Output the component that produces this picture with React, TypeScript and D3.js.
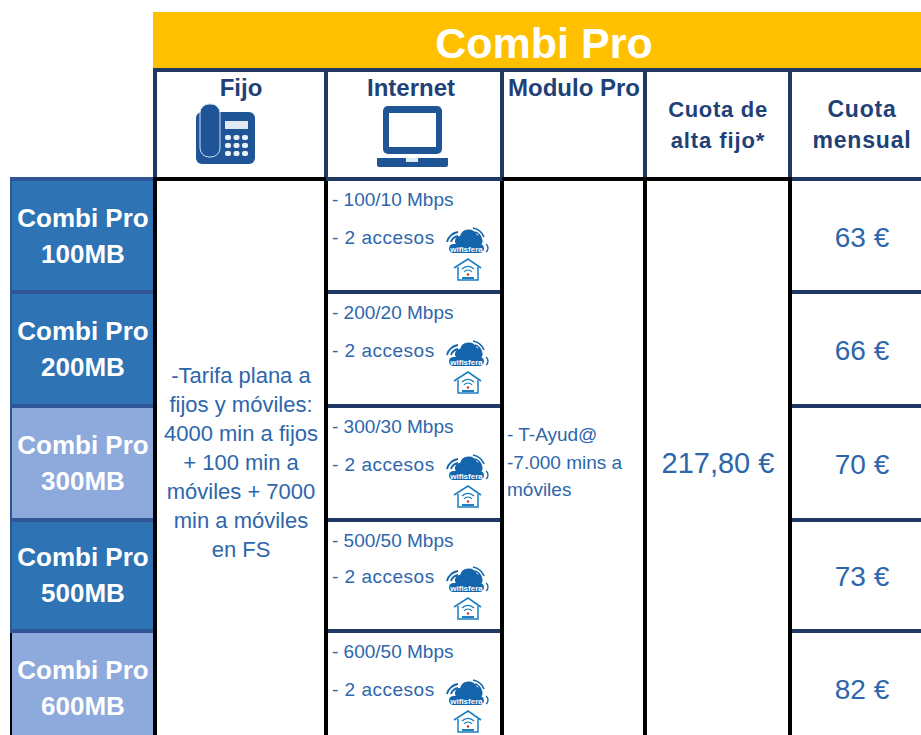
import React from "react";
import * as d3 from "d3";

const title = "Combi Pro";
const plans = ["100MB", "200MB", "300MB", "500MB", "600MB"];
const planShades = ["dark", "dark", "light", "dark", "light"];
const speeds = ["100/10", "200/20", "300/30", "500/50", "600/50"];
const prices = [63, 66, 70, 73, 82];
const altaFee = "217,80 €";
const fijoLines = [
  "-Tarifa plana a",
  "fijos y móviles:",
  "4000 min a fijos",
  "+ 100 min a",
  "móviles + 7000",
  "min a móviles",
  "en FS",
];
const moduloLines = ["- T-Ayud@", "-7.000 mins a", "móviles"];

const WIDTH = 921;
const HEIGHT = 735;
const FONT = "'Liberation Sans', Arial, sans-serif";
const NAVY = "#1f3864";
const HEAD = "#1f4178";
const BLUE = "#2e66ab";
const ICON = "#1565ad";

// column edges of the table
const colX = { fijo: 155, internet: 326, modulo: 502, alta: 645, cuota: 790, end: 921 };

// the source table has slightly uneven rows, so edges and content anchors are separate
const rowEdge = d3.scaleOrdinal<string, number>().domain(plans).range([179, 292, 406, 520, 631]);
const rowText = d3.scaleOrdinal<string, number>().domain(plans).range([179, 292, 406, 518, 631]);
const priceFmt = (v: number) => `${v} €`;

const PhoneIcon = ({ x, y }: { x: number; y: number }) => (
  <g transform={`translate(${x},${y})`}>
    <rect x={1} y={8} width={59} height={52} rx={6} fill="#1f5597" />
    <rect x={5} y={0} width={20} height={53} rx={9} fill="#1f5597" stroke="#cfe3f4" strokeWidth={1} />
    <rect x={30} y={17} width={23} height={8} fill="#dfe9f3" />
    {d3.range(3).flatMap((r) =>
      d3.range(3).map((c) => (
        <rect key={`${r}-${c}`} x={30 + c * 8.5} y={31 + r * 8} width={6} height={5} rx={2} fill="#e8f0f7" />
      ))
    )}
  </g>
);

const LaptopIcon = ({ x, y }: { x: number; y: number }) => (
  <g transform={`translate(${x},${y})`}>
    <rect x={6} y={0} width={59} height={48} rx={5} fill="#1f5597" />
    <rect x={12} y={7} width={47} height={34} fill="#fff" />
    <path d="M0,52H71V59a2,2 0 0 1 -2,2H2a2,2 0 0 1 -2,-2Z" fill="#1f5597" />
    <rect x={29} y={52} width={12} height={4} fill="#dfe9f3" />
  </g>
);

const WifiCloud = ({ x, y }: { x: number; y: number }) => (
  <g transform={`translate(${x},${y})`}>
    <path d="M11,18a5,5 0 0 1 3,-9a9,9 0 0 1 17,-1a6,6 0 0 1 4,10Z" fill={ICON} />
    <path d="M1,15a14,14 0 0 1 11,-10M5,15a9,9 0 0 1 7,-6" fill="none" stroke={ICON} strokeWidth={1.8} />
    <path d="M27,1a15,15 0 0 1 11,9M29,5a9,9 0 0 1 6,6" fill="none" stroke={ICON} strokeWidth={1.6} />
    <path d="M40,17a5,5 0 0 1 0,8" fill="none" stroke={ICON} strokeWidth={1.4} />
    <rect x={3} y={17} width={35} height={9} rx={4.5} fill={ICON} />
    <text x={20.5} y={24.5} textAnchor="middle" fontFamily={FONT} fontWeight="bold" fontSize={8} fill="#fff">
      wifisfera
    </text>
  </g>
);

const HouseIcon = ({ x, y }: { x: number; y: number }) => (
  <g transform={`translate(${x},${y})`} fill="none" stroke="#1c7fc0">
    <path d="M1,10L15,1L28,10" strokeWidth={1.6} />
    <path d="M5,9V22H25V9" strokeWidth={1.5} />
    <path d="M9,11a8,8 0 0 1 12,0M11,14a5,5 0 0 1 8,0" strokeWidth={1.2} />
    <circle cx={15} cy={16.5} r={1.2} fill="#c0392b" stroke="none" />
    <rect x={9} y={19} width={12} height={2} fill="#1c7fc0" stroke="none" />
  </g>
);

const App = () => {
  const colLines = [colX.fijo, colX.internet, colX.modulo, colX.alta, colX.cuota];
  const edges = [...plans.map((p) => rowEdge(p)), HEIGHT + 2];

  return (
    <svg
      width={WIDTH}
      height={HEIGHT}
      fontFamily={FONT}
      style={{ position: "absolute", left: 0, top: 0, background: "#fff" }}
    >
      {/* title bar */}
      <rect x={153} y={12} width={WIDTH - 153} height={56} fill="#ffc000" />
      <text x={544} y={58} textAnchor="middle" fontSize={43} fontWeight="bold" fill="#fff">
        {title}
      </text>

      {/* plan labels */}
      {plans.map((p, i) => (
        <g key={p}>
          <rect
            x={12}
            y={edges[i]}
            width={142}
            height={edges[i + 1] - edges[i]}
            fill={planShades[i] === "dark" ? "#2e74b5" : "#8ea9db"}
          />
          <rect x={10} y={edges[i]} width={2} height={edges[i + 1] - edges[i]} fill={i === 4 ? "#000" : "#2f5597"} />
          <rect x={10} y={edges[i] - 2} width={144} height={4} fill="#2f5597" />
          <text x={83} y={rowText(p) + 48} textAnchor="middle" fontSize={26} fontWeight="bold" fill="#fff">
            {title}
          </text>
          <text x={83} y={rowText(p) + 84} textAnchor="middle" fontSize={26} fontWeight="bold" fill="#fff">
            {p}
          </text>
        </g>
      ))}

      {/* header cells */}
      <g fontWeight="bold" fill={HEAD} textAnchor="middle" fontSize={24}>
        <text x={241} y={96}>Fijo</text>
        <text x={411} y={96}>Internet</text>
        <text x={574} y={96}>Modulo Pro</text>
        <text x={718} y={117} fontSize={22} letterSpacing={0.7}>Cuota de</text>
        <text x={718} y={148} fontSize={22} letterSpacing={0.9}>alta fijo*</text>
        <text x={862} y={117} fontSize={23} letterSpacing={0.8}>Cuota</text>
        <text x={862} y={148} fontSize={23} letterSpacing={0.8}>mensual</text>
      </g>
      <PhoneIcon x={195} y={104} />
      <LaptopIcon x={377} y={106} />

      {/* internet rows */}
      {plans.map((p, i) => (
        <g key={p}>
          <text x={332} y={rowEdge(p) + 27} fontSize={19} fill={BLUE}>
            {`- ${speeds[i]} Mbps`}
          </text>
          <text x={332} y={rowText(p) + 65} fontSize={19} letterSpacing={0.5} fill={BLUE}>
            - 2 accesos
          </text>
          <WifiCloud x={446} y={rowText(p) + 48} />
          <HouseIcon x={453} y={rowText(p) + 79} />
          <text x={862} y={rowText(p) + 68} textAnchor="middle" fontSize={28} fill={BLUE}>
            {priceFmt(prices[i])}
          </text>
        </g>
      ))}

      {/* fijo cell */}
      {fijoLines.map((l, i) => (
        <text key={l} x={241} y={383 + i * 29} textAnchor="middle" fontSize={22} fill={BLUE}>
          {l}
        </text>
      ))}

      {/* modulo cell */}
      {moduloLines.map((l, i) => (
        <text key={l} x={507} y={441 + i * 27.5} fontSize={19} fill={BLUE}>
          {l}
        </text>
      ))}

      <text x={718} y={473} textAnchor="middle" fontSize={29} fill={BLUE}>
        {altaFee}
      </text>

      {/* grid */}
      <line x1={153} x2={WIDTH} y1={70} y2={70} stroke={NAVY} strokeWidth={4} />
      {colLines.map((x) => (
        <line key={x} x1={x} x2={x} y1={69} y2={179} stroke={NAVY} strokeWidth={4} />
      ))}
      {colLines.map((x) => (
        <line key={x} x1={x} x2={x} y1={177} y2={HEIGHT} stroke="#000" strokeWidth={4} />
      ))}
      <line x1={colX.fijo} x2={colX.internet} y1={179} y2={179} stroke="#000" strokeWidth={4} />
      <line x1={colX.internet} x2={colX.modulo} y1={179} y2={179} stroke={NAVY} strokeWidth={4} />
      <line x1={colX.modulo} x2={colX.cuota} y1={179} y2={179} stroke="#000" strokeWidth={4} />
      <line x1={colX.cuota + 2} x2={colX.end} y1={179} y2={179} stroke={NAVY} strokeWidth={4} />
      {plans.slice(1).map((p) => (
        <g key={p} stroke={NAVY} strokeWidth={4}>
          <line x1={colX.internet + 2} x2={colX.modulo - 2} y1={rowEdge(p)} y2={rowEdge(p)} />
          <line x1={colX.cuota + 2} x2={colX.end} y1={rowEdge(p)} y2={rowEdge(p)} />
        </g>
      ))}
    </svg>
  );
};

export default App;
